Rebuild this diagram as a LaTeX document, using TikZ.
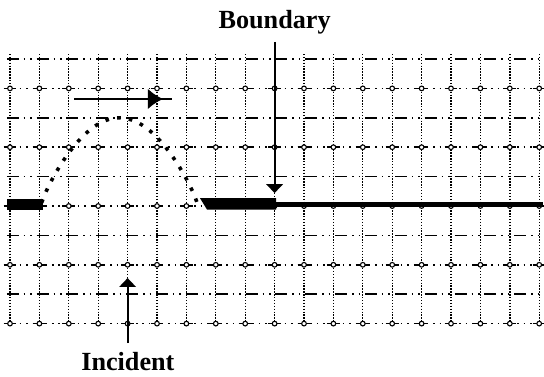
\documentclass[tikz,border=0pt]{standalone}
\usepackage{fontspec}
\setmainfont{Liberation Serif}
\usetikzlibrary{arrows.meta,decorations.markings}
\begin{document}
\begin{tikzpicture}[x=0.75cm,y=0.75cm,line join=miter,>={Triangle[length=6.5pt,width=12pt]}]
	\tikzset{gridv/.style={line width=1pt,dash pattern=on 1pt off 1.1pt},
		gridd/.style={line width=1.1pt,dash pattern=on 8.7pt off 3.59pt on 1.1pt off 3.59pt on 1.1pt off 3.59pt},
		gridc/.style={line width=1.1pt,dash pattern=on 1.1pt off 3.59pt on 1.1pt off 3.59pt},
		ring/.style={line width=0.8pt,fill=white},
		lbl/.style={font=\fontsize{19}{20}\selectfont\bfseries,inner sep=0pt,anchor=base},
		pointer/.style={->,line width=1.45pt},
		pulse/.style={line width=2.6pt,line cap=butt,dash pattern=on 2.6pt off 6pt}}
	\def \xmin{0}		\def \xmax{18}
	\def \ymin{-4}		\def \ymax{5}
	\useasboundingbox (-0.34,-5.816) rectangle (18.163,7.007);
	% grid
	\foreach \x in {\xmin,...,\xmax}
	\draw[gridv] (\x,\ymax+0.17)--(\x,\ymin-0.03);
	\foreach \y in {5,3,1,-1,-3}
	\draw[gridd] (\xmin-0.11,\y)--(\xmax+0.12,\y);
	\foreach \y in {4,2,0,-2,-4} {
		\draw[gridc] (\xmin-0.11,\y)--(\xmax+0.12,\y);
		\foreach \x in {\xmin,...,\xmax} {
			\draw[line width=1.1pt] (\x-0.22,\y)--(\x+0.22,\y);
			\draw[ring] (\x,\y) circle (1.7pt);}
	}
	% string with pulse
	\fill (\xmin-0.11,0.24) rectangle (1.12,-0.14);
	\fill (6.46,0.27)--(9.05,0.27)--(9.05,-0.12)--(6.70,-0.12)--cycle;
	\draw[line width=3.6pt] (9.05,0.05)--(\xmax+0.12,0.05);
	\draw[pulse] plot[domain=-0.99:0.99,samples=60,smooth,variable=\u] ({3.72+2.67*\u},{3*abs(cos(90*\u))^0.8});
	% direction of travel
	\coordinate (tail) at (2.18,3.64);
	\coordinate (head) at (5.51,3.64);
	\draw[line width=1.45pt,decoration={markings,mark=at position 0.908 with {\arrow{Latex[length=11pt,width=15pt]}}},postaction={decorate}] (tail)--(head);
	% labels
	\node[lbl] (bnd) at (9,6.05) {Boundary};
	\coordinate (btop) at (9,5.58);
	\coordinate (btip) at (9,0.44);
	\draw[pointer] (btop)--(btip);
	\node[lbl] (inc) at (4.01,-5.61) {Incident};
	\coordinate (ibot) at (4,-4.66);
	\coordinate (itip) at (4,-2.45);
	\draw[pointer] (ibot)--(itip);
\end{tikzpicture}
\end{document}
